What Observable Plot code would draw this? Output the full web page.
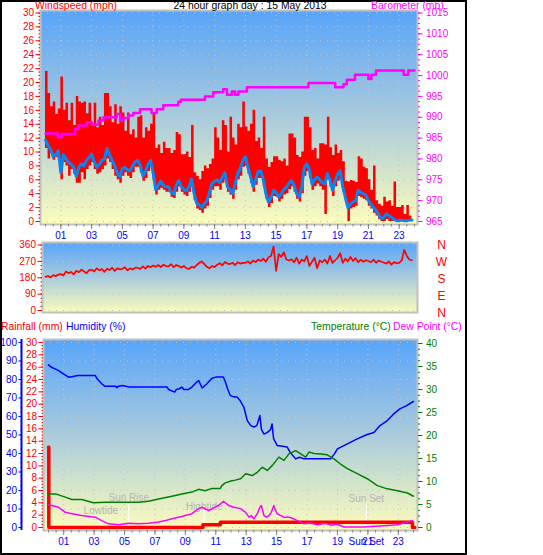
<!DOCTYPE html>
<html><head><meta charset="utf-8">
<script src="https://cdn.jsdelivr.net/npm/d3@7"></script>
<script src="https://cdn.jsdelivr.net/npm/@observablehq/plot@0.6"></script>
<style>
body{margin:0;background:#fff;}
#wrap{position:relative;width:543px;height:555px;overflow:hidden;font-family:"Liberation Sans",Arial,sans-serif;background:#fff;}
#border{position:absolute;left:0;top:0;width:467px;height:555px;box-sizing:border-box;border:2px solid #000;z-index:50;pointer-events:none;}
.layer{position:absolute;left:0;top:0;}
.hdr{position:absolute;white-space:nowrap;font-size:10.4px;line-height:10px;z-index:60;}
</style></head><body>
<div id="wrap"><div id="border"></div></div>
<script>
// ---------------- DATA ----------------
const title = "24 hour graph day : 15 May 2013";
const hoursLabelled = [1,3,5,7,9,11,13,15,17,19,21,23];
const hourLabels = ["01","03","05","07","09","11","13","15","17","19","21","23"];
const windTicks = [0,2,4,6,8,10,12,14,16,18,20,22,24,26,28,30];
const pressTicks = [965,970,975,980,985,990,995,1000,1005,1010,1015];
const dirTicks = [0,90,180,270,360];
const compassLabels = ["N","E","S","W","N"];
const humTicks = [0,10,20,30,40,50,60,70,80,90,100];
const rainTicks = [0,2,4,6,8,10,12,14,16,18,20,22,24,26,28,30];
const tempTicks = [0,5,10,15,20,25,30,35,40];

// wind speed (mph), one value every 10 minutes from 00:00
const windGust = [
21.6,18.4,16.5,17.2,15.4,16.2, 20.8,16.0,17.0,14.5,17.0,13.8, 18.0,17.2,17.0,17.2,15.5,17.0,
14.0,17.0,13.5,15.0,13.8,18.4, 18.4,16.5,14.2,16.8,14.0,16.5, 15.6,13.0,15.6,12.5,13.2,12.0,
15.0,15.2,12.0,13.5,13.0,14.0, 15.5,10.5,11.0,9.8,11.4,10.5, 10.5,9.8,10.2,12.8,12.5,9.6,
9.6,10.0,9.2,13.8,7.0,6.5, 6.0,7.2,8.0,7.6,8.2,9.0, 13.5,12.0,10.2,14.5,13.8,10.0,
15.0,12.0,11.0,14.0,13.5,17.2, 13.6,13.0,14.0,16.0,11.5,12.0, 10.5,15.0,9.0,7.8,8.5,9.3,
9.3,8.8,8.6,9.0,8.0,12.6, 12.6,12.0,9.5,9.2,10.0,15.0, 15.0,13.5,10.2,10.5,9.0,11.2,
11.2,11.0,15.0,10.6,9.5,11.0, 9.8,10.2,8.6,5.8,5.7,5.9, 5.8,5.6,9.3,9.0,7.8,7.6,
6.0,4.5,8.0,3.0,2.5,2.2, 3.5,2.8,3.0,2.2,5.7,2.0, 2.0,2.3,1.0,2.3,0.8,2.3];
const windLow = [
10.5,9.0,9.8,8.8,9.2,9.0, 6.0,8.5,8.0,6.5,7.5,6.8, 5.5,5.5,7.0,6.0,7.5,8.0,
8.5,7.5,6.8,7.0,7.5,8.0, 9.0,8.5,7.5,6.5,6.0,5.5, 6.5,7.0,6.5,6.2,7.0,7.8,
7.8,7.0,5.8,6.2,7.2,7.8, 6.0,3.8,4.5,4.8,4.5,4.2, 4.2,3.5,3.3,4.2,5.0,4.2,
3.8,3.6,4.2,5.0,3.0,1.8, 1.6,1.2,1.8,2.2,3.3,4.5, 5.0,5.0,4.5,5.5,6.0,4.2,
3.8,3.2,4.5,6.0,6.5,7.8, 8.0,6.8,5.5,4.2,5.2,6.2, 6.2,5.0,3.2,2.0,2.6,3.6,
3.5,2.8,3.2,3.8,4.0,4.6, 5.0,4.2,3.2,2.8,4.0,6.5, 7.2,6.2,4.5,5.0,5.4,5.0,
4.5,1.0,6.0,5.0,3.6,5.0, 5.8,6.2,4.2,2.8,0.0,1.8, 2.0,2.2,3.6,3.4,3.2,3.0,
2.2,1.8,1.2,0.8,0.3,0.0, 0,0.3,0,0,0,0, 0,0,0,0,0,0];
const windAvg = [
11.7,10.9,10.4,9.3,9.6,10.2, 7.0,9.6,9.0,8.5,8.2,7.8, 6.5,7.8,8.3,8.0,8.8,9.2,
9.7,8.6,7.8,8.2,8.8,9.0, 10.5,9.6,8.8,8.0,7.0,6.4, 7.6,7.8,7.4,7.3,8.0,8.6,
8.8,8.0,6.6,7.2,8.2,8.8, 7.0,4.6,5.2,5.8,5.2,5.0, 5.0,4.2,4.0,5.2,5.9,5.0,
4.6,4.4,5.0,6.1,4.0,2.6, 2.4,2.0,2.6,3.0,4.2,5.5, 5.8,6.0,5.6,6.4,7.0,5.0,
4.6,4.0,5.4,6.9,7.6,8.8, 9.3,7.8,6.5,5.0,6.0,7.2, 7.3,6.0,4.0,2.8,3.4,4.5,
4.2,3.5,4.0,4.6,4.9,5.5, 5.9,5.2,4.0,3.5,5.0,7.8, 8.3,7.4,5.4,6.0,6.4,6.0,
5.6,5.4,6.9,6.0,4.5,5.8, 6.8,7.3,5.0,3.5,2.0,2.5, 2.8,3.0,4.5,4.2,4.0,3.8,
3.0,2.5,2.0,1.6,1.0,0.4, 0.6,1.1,0.8,0.6,0.3,0.1, 0.1,0.2,0.1,0.1,0.2,0.2];
// wind direction (degrees), every 10 minutes
const windDir = [
185,190,182,195,188,198, 200,192,215,205,212,198, 218,210,225,215,205,222,
224,215,232,220,228,212, 230,222,235,218,232,226, 229,238,220,232,225,236,
235,228,242,230,245,238, 247,240,250,238,252,244, 242,255,238,250,244,236,
245,232,228,240,236,250, 262,270,255,240,232,245, 238,252,260,248,267,258,
255,262,250,265,258,262, 262,270,258,275,266,280, 272,285,268,292,300,352,
218,310,295,320,280,275, 282,265,290,258,280,270, 300,245,268,290,232,275,
265,280,258,300,262,275, 290,315,262,285,270,295, 272,288,265,280,268,276,
272,265,280,262,275,268, 264,258,270,252,266,260, 262,275,333,300,280,276];
// barometer (mb), stepped readings
const pressT = [0,0.8,1.06,1.93,2.14,2.68,3.01,3.44,3.77,4.63,4.85,5.06,5.39,5.71,6.15,6.9,7.23,7.66,8.64,8.81,10.37,10.91,11.56,11.8,12.12,12.34,12.55,13.1,17.1,18.84,19.38,19.6,20.13,21.0,21.2,21.5,23.3,23.6,24.0];
const pressV = [986.1,985.2,986.0,987.2,988.0,988.8,988.2,989.2,990.0,990.8,989.2,989.8,990.4,991.0,991.9,991.0,991.9,992.9,993.7,994.2,995.0,996.0,996.7,995.4,996.2,995.4,996.2,997.2,998.2,997.2,997.9,999.0,1000.2,999.2,1000.2,1001.2,1000.2,1001.2,1001.2];
// humidity (%)
const humT = [0,0.2,0.5,0.66,0.9,1.32,1.45,1.93,3.07,3.2,3.5,3.7,4.39,4.5,4.6,4.9,5.3,7.8,7.9,8.3,8.4,8.6,8.77,8.9,9.2,9.43,9.7,9.87,10.1,10.4,10.75,11.0,11.5,11.62,11.8,11.95,12.2,12.4,12.6,12.85,13.07,13.3,13.5,13.7,13.9,14.0,14.17,14.4,14.6,14.7,14.8,15.04,15.7,15.9,16.25,16.5,16.8,18.55,18.8,19.0,19.65,20.3,20.96,21.4,21.8,22.28,22.7,23.1,23.55,23.9,24.0];
const humV = [87.9,86.6,85.5,84.8,83.5,81.3,81.3,82.2,82.2,80.4,77.7,76.4,76.4,75.6,76.4,76.8,75.9,75.9,74.6,73.2,74.6,75.0,75.9,74.6,74.6,75.9,78.2,79.5,75.4,77.6,80.7,81.3,81.3,78.9,74.5,71.4,70.5,70.5,68.6,65.0,57.8,55.1,54.3,55.1,60.5,53.0,50.5,51.4,53.0,56.0,48.0,44.3,43.5,40.5,37.1,38.0,37.1,37.1,39.8,42.5,45.2,47.9,50.3,51.4,55.1,57.8,61.4,64.1,65.9,67.7,68.1];
// temperature (°C)
const tempT = [0,0.44,0.66,1.1,1.54,2.19,2.96,3.73,5.92,6.58,7.24,8.11,8.77,9.43,9.87,10.3,10.75,11.3,11.4,11.62,12.0,12.28,12.63,12.96,13.4,13.73,14.05,14.39,14.72,15.15,15.48,15.81,16.25,16.58,16.91,17.13,17.46,17.9,18.33,18.77,19.2,19.65,20.3,20.96,21.62,22.28,22.94,23.6,24.0];
const tempV = [7.3,7.3,7.1,6.6,6.1,6.1,5.4,5.5,5.5,5.7,6.2,6.8,7.3,7.7,8.3,8.0,8.5,8.5,9.1,9.7,10.1,10.3,10.6,11.7,11.3,12.0,13.1,12.4,13.5,15.3,14.6,16.0,16.7,16.0,15.3,16.4,16.1,16.0,15.8,14.9,13.8,12.8,11.7,10.6,9.1,8.4,8.0,7.5,6.8];
// dew point (°C)
const dewT = [0,0.22,0.66,1.1,1.54,2.19,3.07,3.5,3.95,4.61,5.26,5.92,6.58,7.24,7.68,8.11,8.77,9.43,9.87,10.09,10.53,11.18,11.51,11.84,12.19,12.63,12.96,13.18,13.33,13.51,13.73,13.9,13.99,14.08,14.17,14.34,14.5,14.65,14.82,14.93,15.04,15.26,15.48,15.81,16.03,16.36,16.8,17.2,17.68,18.2,18.6,18.99,19.43,20.75,21.18,22.06,22.94,23.6,23.92,24.0];
const dewV = [4.9,4.8,4.4,3.3,3.0,2.6,2.25,1.5,0.8,0.6,0.9,0.8,0.9,1.2,1.5,1.9,2.4,3.0,4.1,4.4,3.7,4.8,5.7,4.8,4.4,4.1,3.3,2.25,2.6,1.9,3.0,4.4,4.8,3.7,2.6,2.25,2.6,3.3,4.8,3.7,3.0,2.6,2.25,2.25,2.0,1.5,0.8,1.0,0.6,0.9,0.5,0.7,0.1,0.1,0.2,0.4,0.6,1.2,1.5,1.2];
// rainfall (mm)
const rainT = [0,0.02,10.15,11.3,23.93,24.1];
const rainV = [13.0,0,0.45,0.85,0,0];
// events
const eventNames = ["Lowtide","Sun Rise","Hightide","Sun Set"];
const eventTimes = [3.44,5.28,10.24,20.9];

// --------------- BUILD ----------------
const windRows = windAvg.map((a,i)=>({t:i/6, avg:a, hi:windGust[i], lo:windLow[i], dir:windDir[i]}));
const pressRows = pressT.map((t,i)=>({t, p:pressV[i]}));
const humRows = humT.map((t,i)=>({t, v:humV[i]}));
const tempRows = tempT.map((t,i)=>({t, v:tempV[i]}));
const dewRows = dewT.map((t,i)=>({t, v:dewV[i]}));
const rainRows = rainT.map((t,i)=>({t, v:rainV[i]}));

const W = 466, H = 555;
const FONT = '"Liberation Sans", Arial, sans-serif';
const baseStyle = {background:"none", overflow:"visible", fontFamily:FONT, fontSize:"10px"};
const GRID = "#c4c4c4";
const blank = () => "";
const plain = d => String(d);

function gradientDefs(id){
  return () => {
    const ns = "http://www.w3.org/2000/svg";
    const defs = document.createElementNS(ns,"defs");
    const lg = document.createElementNS(ns,"linearGradient");
    lg.setAttribute("id",id); lg.setAttribute("x1","0"); lg.setAttribute("y1","0"); lg.setAttribute("x2","0"); lg.setAttribute("y2","1");
    [["0%","#58a4fa"],["50%","#a9cbdc"],["100%","#fcfcbc"]].forEach(([o,c])=>{
      const s = document.createElementNS(ns,"stop"); s.setAttribute("offset",o); s.setAttribute("stop-color",c); lg.appendChild(s);
    });
    defs.appendChild(lg);
    return defs;
  };
}

const wrap = document.getElementById("wrap");
function add(svg){ svg.classList.add("layer"); wrap.appendChild(svg); }

// ---- top panel: wind speed ----
const topM = {marginTop:10, marginBottom:H-224, marginLeft:40, marginRight:W-417};
const xTop = {domain:[0,24], range:[45,414]};
add(Plot.plot({
  width:W, height:H, ...topM, style:baseStyle,
  x: xTop, y:{domain:[0,30], range:[221,12.5]},
  marks:[
    gradientDefs("gTop"),
    Plot.frame({fill:"url(#gTop)"}),
    Plot.ruleY(windTicks, {stroke:GRID, strokeDasharray:"1,6"}),
    Plot.ruleX(hoursLabelled, {stroke:GRID, strokeDasharray:"1,4"}),
    Plot.areaY(windRows, {x:"t", y1:"lo", y2:"hi", curve:"step-after", fill:"#ff0000"}),
    Plot.lineY(windRows, {x:"t", y:"avg", stroke:"#0a84f0", strokeWidth:3}),
    Plot.frame({stroke:"#c0c0c0", strokeWidth:2}),
    Plot.axisY({ticks:d3.range(0,30.01,0.5), tickSize:1.5, tickFormat:blank, stroke:"#ff0000", label:null}),
    Plot.axisY({ticks:windTicks, tickSize:4.5, tickPadding:2, tickFormat:plain, stroke:"#ff0000", fill:"#ff0000", label:null}),
    Plot.axisX({ticks:d3.range(0,24.01,0.5), tickSize:2.5, tickFormat:blank, stroke:"#808080", label:null}),
    Plot.axisX({ticks:hoursLabelled, tickSize:5, tickFormat:blank, stroke:"#808080", label:null}),
    Plot.text(hoursLabelled, {x:d=>d, text:(d,i)=>hourLabels[i], frameAnchor:"bottom", lineAnchor:"middle", textAnchor:"middle", dy:11, fill:"#0000ff"})
  ]
}));
// ---- top panel: barometer ----
add(Plot.plot({
  width:W, height:H, ...topM, style:baseStyle,
  x:{...xTop, axis:null}, y:{domain:[965,1015], range:[221,12.5]},
  marks:[
    Plot.lineY(pressRows, {x:"t", y:"p", curve:"step-after", stroke:"#ff00ff", strokeWidth:2.5}),
    Plot.axisY({anchor:"right", ticks:d3.range(965,1015.01,1.25), tickSize:2, tickFormat:blank, stroke:"#ff00ff", label:null}),
    Plot.axisY({anchor:"right", ticks:pressTicks, tickSize:4.5, tickPadding:4, tickFormat:plain, stroke:"#ff00ff", fill:"#ff00ff", label:null})
  ]
}));

// ---- middle panel: wind direction ----
const midM = {marginTop:242, marginBottom:H-312, marginLeft:42, marginRight:W-417};
add(Plot.plot({
  width:W, height:H, ...midM, style:baseStyle,
  x:{...xTop, axis:null}, y:{domain:[0,360], range:[310,244.5]},
  marks:[
    gradientDefs("gMid"),
    Plot.frame({fill:"url(#gMid)"}),
    Plot.ruleY(dirTicks, {stroke:GRID, strokeDasharray:"1,6"}),
    Plot.lineY(windRows, {x:"t", y:"dir", stroke:"#ff0000", strokeWidth:1.7}),
    Plot.frame({stroke:"#c0c0c0", strokeWidth:2}),
    Plot.axisY({ticks:d3.range(0,360.1,22.5), tickSize:1.5, tickFormat:blank, stroke:"#ff0000", label:null}),
    Plot.axisY({ticks:dirTicks, tickSize:4.5, tickPadding:2, tickFormat:plain, stroke:"#ff0000", fill:"#ff0000", label:null})
  ]
}));
add(Plot.plot({
  width:W, height:H, ...midM, style:baseStyle,
  x:{axis:null}, y:{domain:[0,4], range:[313,245], axis:null},
  marks:[
    Plot.text(compassLabels, {y:(d,i)=>i, text:d=>d, frameAnchor:"right", textAnchor:"middle", lineAnchor:"middle", dx:24, fill:"#ff0000", fontSize:12})
  ]
}));

// ---- bottom panel ----
const botM = {marginTop:339, marginBottom:H-530, marginLeft:43, marginRight:W-417};
const xBot = {domain:[0,24], range:[48,413]};
const evColor = "#b4b4b4";
// base: background, grid, events (humidity scale)
add(Plot.plot({
  width:W, height:H, ...botM, style:baseStyle,
  x:{...xBot, axis:null}, y:{domain:[0,100], range:[527,342], axis:null},
  marks:[
    gradientDefs("gBot"),
    Plot.frame({fill:"url(#gBot)"}),
    Plot.ruleY(humTicks, {stroke:GRID, strokeDasharray:"1,6"}),
    Plot.ruleX(hoursLabelled, {stroke:GRID, strokeDasharray:"1,4"}),
    Plot.ruleX([eventTimes[0]], {y1:0, y2:6.5, stroke:"#ffffff"}),
    Plot.ruleX([eventTimes[1]], {y1:0, y2:12.5, stroke:"#ffffff"}),
    Plot.ruleX([eventTimes[2]], {y1:0, y2:9.2, stroke:"#ffffff"}),
    Plot.ruleX([eventTimes[3]], {y1:0, y2:12.5, stroke:"#ffffff"}),
    Plot.text([0], {x:()=>eventTimes[0], text:()=>eventNames[0], frameAnchor:"bottom", lineAnchor:"middle", dy:-19.5, fill:evColor}),
    Plot.text([1], {x:()=>eventTimes[1], text:()=>eventNames[1], frameAnchor:"bottom", lineAnchor:"middle", dy:-32.5, fill:evColor}),
    Plot.text([2], {x:()=>eventTimes[2], text:()=>eventNames[2], frameAnchor:"bottom", lineAnchor:"middle", dy:-24, fill:evColor}),
    Plot.text([3], {x:()=>eventTimes[3], text:()=>eventNames[3], frameAnchor:"bottom", lineAnchor:"middle", dy:-32, fill:evColor})
  ]
}));
// rain + x axis + frame
add(Plot.plot({
  width:W, height:H, ...botM, style:baseStyle,
  x:xBot, y:{domain:[0,30], range:[527,342]},
  marks:[
    Plot.lineY(rainRows, {x:"t", y:"v", curve:"step-after", stroke:"#ff0000", strokeWidth:3.5}),
    Plot.frame({stroke:"#c0c0c0", strokeWidth:2}),
    Plot.axisY({ticks:d3.range(0,30.01,0.5), tickSize:1.5, tickFormat:blank, stroke:"#ff0000", label:null}),
    Plot.axisY({ticks:rainTicks, tickSize:4.5, tickPadding:2, tickFormat:plain, stroke:"#ff0000", fill:"#ff0000", label:null}),
    Plot.axisX({ticks:d3.range(0,24.01,0.5), tickSize:2.5, tickFormat:blank, stroke:"#808080", label:null}),
    Plot.axisX({ticks:hoursLabelled, tickSize:5, tickFormat:blank, stroke:"#808080", label:null}),
    Plot.text(hoursLabelled, {x:d=>d, text:(d,i)=>hourLabels[i], frameAnchor:"bottom", lineAnchor:"middle", textAnchor:"middle", dy:11.5, fill:"#0000ff"}),
    Plot.text([3], {x:()=>eventTimes[3], text:()=>eventNames[3], frameAnchor:"bottom", lineAnchor:"middle", textAnchor:"middle", dy:11.5, fill:"#0000ff"})
  ]
}));
// humidity
add(Plot.plot({
  width:W, height:H, ...botM, style:baseStyle,
  x:{...xBot, axis:null}, y:{domain:[0,100], range:[527,342]},
  marks:[
    Plot.lineY(humRows, {x:"t", y:"v", stroke:"#0000ff", strokeWidth:1.5}),
    Plot.ruleX([0], {dx:-27, stroke:"#0000ff", strokeWidth:2}),
    Plot.axisY({ticks:d3.range(0,100.1,2.5), tickSize:1.5, dx:-21, tickFormat:blank, stroke:"#0000ff", label:null}),
    Plot.axisY({ticks:humTicks, tickSize:3.5, tickPadding:2, dx:-21, tickFormat:plain, stroke:"#0000ff", fill:"#0000ff", label:null})
  ]
}));
// temperature + dew point
add(Plot.plot({
  width:W, height:H, ...botM, style:baseStyle,
  x:{...xBot, axis:null}, y:{domain:[0,40], range:[527,343]},
  marks:[
    Plot.lineY(tempRows, {x:"t", y:"v", stroke:"#008000", strokeWidth:1.5}),
    Plot.lineY(dewRows, {x:"t", y:"v", stroke:"#ff00ff", strokeWidth:1.5}),
    Plot.axisY({anchor:"right", ticks:d3.range(0,40.01,1.25), tickSize:2, tickFormat:blank, stroke:"#008000", label:null}),
    Plot.axisY({anchor:"right", ticks:tempTicks, tickSize:4.5, tickPadding:4, tickFormat:plain, stroke:"#008000", fill:"#008000", label:null})
  ]
}));

// ---- headers ----
function hdr(text, left, top, color, center){
  const s = document.createElement("div");
  s.className = "hdr"; s.textContent = text;
  s.style.left = left+"px"; s.style.top = top+"px"; s.style.color = color;
  if (center) s.style.transform = "translateX(-50%)";
  wrap.appendChild(s);
}
hdr("Windspeed (mph)", 35, 0.5, "#ff0000");
hdr(title, 250, 0.5, "#000000", true);
hdr("Barometer (mb)", 371, 0.5, "#ff00ff");
hdr("Rainfall (mm)", 1, 322, "#ff0000");
hdr("Humidity (%)", 66, 322, "#0000ff");
hdr("Temperature (°C)", 311, 322, "#008000");
hdr("Dew Point (°C)", 393, 322, "#ff00ff");
</script>
</body></html>
